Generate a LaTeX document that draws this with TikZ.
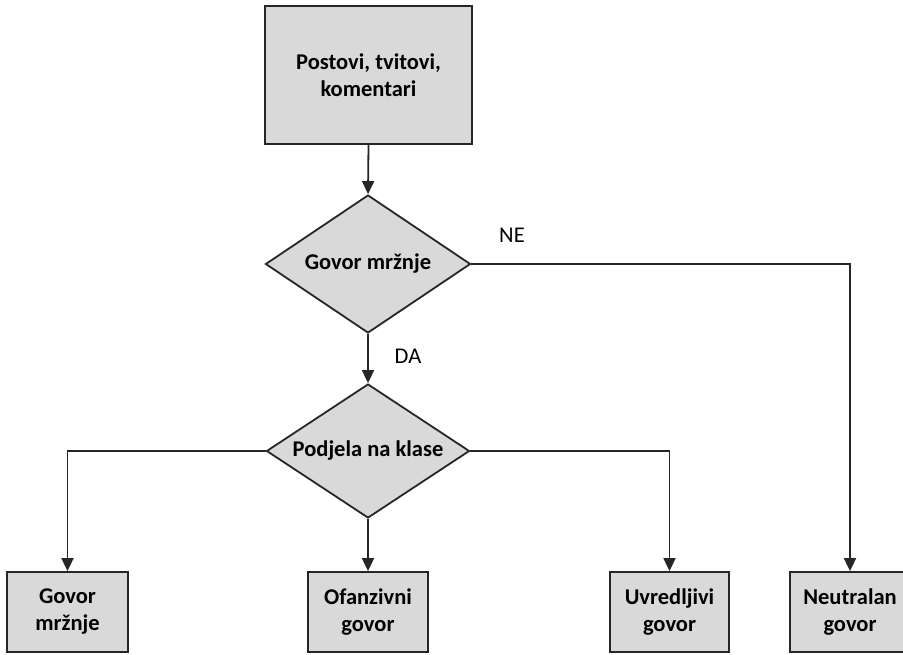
\documentclass[tikz,border=0pt]{standalone}
\usepackage{fontspec}
\setmainfont{Carlito}
\usetikzlibrary{shapes.geometric,arrows.meta}
\tikzset{bigfont/.style={font=\bfseries\fontsize{22.5}{27}\selectfont}}
\begin{document}
\begin{tikzpicture}[x=1pt,y=-1pt,
  box/.style={draw=black!85,line width=1.8pt,fill=gray!30,bigfont,align=center,inner sep=0pt},
  dec/.style={draw=black!85,line width=1.8pt,fill=gray!30,diamond,inner sep=0pt},
  dectext/.style={bigfont},
  conn/.style={line width=1.8pt,draw=black!85},
  arr/.style={conn,-{Triangle[length=13pt,width=12pt]}},
  lbl/.style={font=\fontsize{22.5}{27}\selectfont}]
\useasboundingbox (0,0) rectangle (903,655);
\node[box,minimum width=207pt,minimum height=138pt] (src) at (368.5,75) {Postovi, tvitovi,\\komentari};
\node[dec,minimum width=205pt,minimum height=138pt] (d1) at (368,264) {};
\node[dectext] (t1) at (d1.center) {Govor mržnje};
\node[dec,minimum width=203pt,minimum height=134pt] (d2) at (368,451) {};
\node[dectext] (t2) at (d2.center) {Podjela na klase};
\node[box,minimum width=121pt,minimum height=80pt] (b1) at (67.5,612) {Govor\\mržnje};
\node[box,minimum width=120pt,minimum height=80pt] (b2) at (368,612) {Ofanzivni\\govor};
\node[box,minimum width=119pt,minimum height=80pt] (b3) at (669.5,612) {Uvredljivi\\govor};
\node[box,minimum width=120pt,minimum height=80pt] (b4) at (850,612) {Neutralan\\govor};
\node[lbl] (ne) at (512,235) {NE};
\node[lbl] (da) at (408,356) {DA};
\draw[arr] (src.south) -- (d1.north);
\draw[arr] (d1.south) -- (d2.north);
\draw[arr] (d1.east) -| (b4.north);
\draw[arr] (d2.west) -| (b1.north);
\draw[arr] (d2.south) -- (b2.north);
\draw[arr] (d2.east) -| (b3.north);
\end{tikzpicture}
\end{document}
